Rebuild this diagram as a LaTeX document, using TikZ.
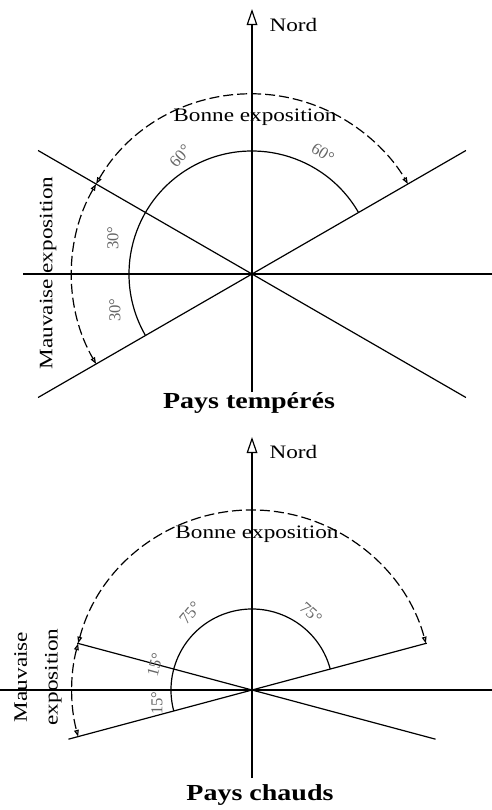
\documentclass[tikz,border=0pt]{standalone}
\usepackage{fontspec}
\setmainfont{Liberation Serif}
\usetikzlibrary{calc,arrows.meta,positioning}
\newcommand{\sq}[1]{\scalebox{1}[0.82]{#1}}

\tikzset{
  trait/.style={line width=0.9pt},
  tiret/.style={line width=0.9pt,dash pattern=on 7.5pt off 3pt,<->,
    >={Triangle[open,length=5pt,width=3.5pt]}},
  nord/.style={line width=0.9pt,-{Triangle[open,length=12pt,width=8pt]}},
  lbl/.style={font=\fontsize{17.4}{20}\selectfont,inner sep=1pt},
  deg/.style={font=\fontsize{12.5}{14}\selectfont,text=black!60,inner sep=0pt},
  titre/.style={font=\bfseries\fontsize{21}{24}\selectfont,inner sep=1pt}
}

\begin{document}
\begin{tikzpicture}[x=0.75pt,y=0.75pt]
    \useasboundingbox (0,0) rectangle (492,-810);

    % Pays temperes
    \coordinate (O1) at (252,-274);
    \coordinate (N1) at (252,-9);
    \coordinate (S1) at (252,-392);
    \coordinate (W1) at (23,-274);
    \coordinate (E1) at (492,-274);
    \coordinate (a1) at ($(O1)+(150:247)$);
    \coordinate (b1) at ($(O1)+(-30:247)$);
    \coordinate (c1) at ($(O1)+(210:247)$);
    \coordinate (d1) at ($(O1)+(30:247)$);

    \draw[trait] (W1) -- (E1);
    \draw[nord] (S1) -- (N1);
    \draw[trait] (a1) -- (b1);
    \draw[trait] (c1) -- (d1);
    \draw[trait] ($(O1)+(30:123)$) arc (30:210:123);
    \draw[tiret] ($(O1)+(150:180)$) arc (150:30:180);
    \draw[tiret] ($(O1)+(150:180)$) arc (150:210:180);

    \node[lbl,anchor=west] (nord1) at (268,-25) {\sq{Nord}};
    \node[lbl] (bonne1) at (255,-117) {\sq{Bonne exposition}};
    \node[lbl,rotate=90] (mauv1) at (48,-273) {\sq{Mauvaise exposition}};
    \node[deg,rotate=48] (g60) at (180,-156) {60°};
    \node[deg,rotate=-33] (d60) at (323,-153) {60°};
    \node[deg,rotate=90] (h30) at (113,-238) {30°};
    \node[deg,rotate=90] (b30) at (115,-310) {30°};
    \node[titre] (titre1) at (249,-403) {\sq{Pays tempérés}};

    % Pays chauds
    \coordinate (O2) at (252,-690);
    \coordinate (N2) at (252,-437);
    \coordinate (S2) at (252,-778);
    \coordinate (W2) at (0,-690);
    \coordinate (E2) at (492,-690);
    \coordinate (a2) at ($(O2)+(165:181)$);
    \coordinate (b2) at ($(O2)+(-15:190)$);
    \coordinate (c2) at ($(O2)+(195:190)$);
    \coordinate (d2) at ($(O2)+(15:181)$);

    \draw[trait] (W2) -- (E2);
    \draw[nord] (S2) -- (N2);
    \draw[trait] (a2) -- (b2);
    \draw[trait] (c2) -- (d2);
    \draw[trait] ($(O2)+(15:81)$) arc (15:195:81);
    \draw[tiret] ($(O2)+(165:180)$) arc (165:15:180);
    \draw[tiret] ($(O2)+(165:180)$) arc (165:195:180);

    \node[lbl,anchor=west] (nord2) at (268,-452) {\sq{Nord}};
    \node[lbl] (bonne2) at (257,-534) {\sq{Bonne exposition}};
    \node[lbl,rotate=90,align=center] (mauv2) at (38,-677)
      {\sq{Mauvaise}\\[3pt]\sq{exposition}};
    \node[deg,rotate=50] (g75) at (190,-613) {75°};
    \node[deg,rotate=-42] (d75) at (311,-613) {75°};
    \node[deg,rotate=75] (h15) at (155,-665) {15°};
    \node[deg,rotate=90] (b15) at (157,-703) {15°};
    \node[titre] (titre2) at (260,-795) {\sq{Pays chauds}};
\end{tikzpicture}
\end{document}
